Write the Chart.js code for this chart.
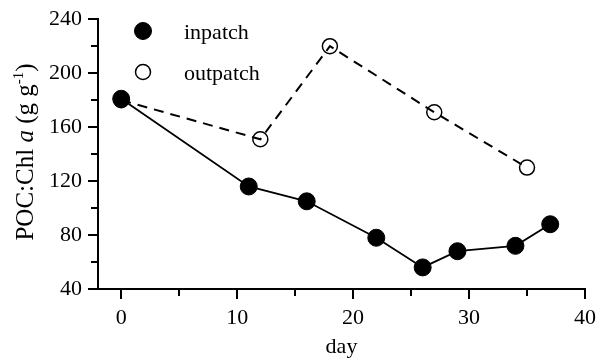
<!DOCTYPE html>
<html>
<head>
<meta charset="utf-8">
<script src="https://cdn.jsdelivr.net/npm/chart.js@4.4.1/dist/chart.umd.min.js"></script>
<style>
  html, body { margin: 0; padding: 0; background: #fff; }
</style>
</head>
<body>
<canvas id="pocChart" width="602" height="360"></canvas>
<script>
// data
const inDays = [0, 11, 16, 22, 26, 29, 34, 37];
const inPoc = [181, 116, 105, 78, 56, 68, 72, 88];
const outDays = [0, 12, 18, 27, 35];
const outPoc = [180, 151, 220, 171, 130];

const xTicks = [0, 10, 20, 30, 40];
const xMinor = [5, 15, 25, 35];
const yTicks = [40, 80, 120, 160, 200, 240];
const yMinor = [60, 100, 140, 180, 220];

const serif = "'Liberation Serif', 'DejaVu Serif', serif";

// minor ticks + y axis title + legend drawn on top
const extras = {
    id: 'extras',
    afterDraw(chart) {
        const ctx = chart.ctx;
        const xs = chart.scales.x;
        const ys = chart.scales.y;
        ctx.save();
        ctx.strokeStyle = '#000';
        ctx.lineWidth = 2;
        ctx.beginPath();
        xMinor.forEach((v) => {
            const px = Math.round(xs.getPixelForValue(v));
            ctx.moveTo(px, ys.bottom);
            ctx.lineTo(px, ys.bottom + 7);
        });
        yMinor.forEach((v) => {
            const py = Math.round(ys.getPixelForValue(v));
            ctx.moveTo(xs.left, py);
            ctx.lineTo(xs.left - 7, py);
        });
        ctx.stroke();

        // y title: POC:Chl a (g g-1)
        const parts = [
            { t: 'POC:Chl ', f: '25px ' + serif, dy: 0 },
            { t: 'a', f: 'italic 25px ' + serif, dy: 0 },
            { t: ' (g g', f: '25px ' + serif, dy: 0 },
            { t: '-1', f: '15px ' + serif, dy: -10 },
            { t: ')', f: '25px ' + serif, dy: 0 }
        ];
        let total = 0;
        parts.forEach((p) => { ctx.font = p.f; total += ctx.measureText(p.t).width; });
        ctx.translate(33, 152);
        ctx.rotate(-Math.PI / 2);
        ctx.fillStyle = '#000';
        ctx.textBaseline = 'alphabetic';
        let x = -total / 2;
        parts.forEach((p) => {
            ctx.font = p.f;
            ctx.fillText(p.t, x, p.dy);
            x += ctx.measureText(p.t).width;
        });
        ctx.restore();

        // legend
        ctx.save();
        const rows = [31, 72];
        chart.data.datasets.forEach((ds, i) => {
            const cy = rows[i];
            ctx.beginPath();
            ctx.arc(143, cy, ds.pointRadius, 0, Math.PI * 2);
            if (ds.pointBackgroundColor !== 'rgba(0,0,0,0)') {
                ctx.fillStyle = ds.pointBackgroundColor;
                ctx.fill();
            }
            ctx.lineWidth = ds.pointBorderWidth;
            ctx.strokeStyle = '#000';
            ctx.stroke();
            ctx.fillStyle = '#000';
            ctx.font = '22px ' + serif;
            ctx.textBaseline = 'alphabetic';
            ctx.fillText(ds.label, 184, cy + 8);
        });
        ctx.restore();
    }
};

const ctx = document.getElementById('pocChart').getContext('2d');

const chart = new Chart(ctx, {
    type: 'line',
    data: {
        datasets: [{
            label: 'inpatch',
            data: inDays.map((d, i) => ({ x: d, y: inPoc[i] })),
            borderColor: '#000',
            borderWidth: 1.8,
            pointRadius: 8.5,
            pointBackgroundColor: '#000',
            pointBorderColor: '#000',
            pointBorderWidth: 1,
            tension: 0
        }, {
            label: 'outpatch',
            data: outDays.map((d, i) => ({ x: d, y: outPoc[i] })),
            borderColor: '#000',
            borderWidth: 2,
            borderDash: [10, 7],
            pointRadius: 7.5,
            pointBackgroundColor: 'rgba(0,0,0,0)',
            pointBorderColor: '#000',
            pointBorderWidth: 1.5,
            tension: 0
        }]
    },
    options: {
        responsive: false,
        animation: false,
        devicePixelRatio: 1,
        layout: { padding: { top: 16, right: 12, left: 0, bottom: 0 } },
        plugins: {
            legend: { display: false },
            tooltip: { enabled: false }
        },
        scales: {
            x: {
                type: 'linear',
                min: -2,
                max: 40,
                afterBuildTicks: (scale) => { scale.ticks = xTicks.map((v) => ({ value: v })); },
                afterFit: (scale) => { scale.height = 71; },
                border: { display: true, color: '#000', width: 2 },
                grid: { display: true, drawOnChartArea: false, drawTicks: true, tickLength: 10, color: '#000', lineWidth: 2 },
                ticks: { color: '#000', padding: 6, maxRotation: 0, font: { family: serif, size: 22 } },
                title: { display: true, text: 'day', color: '#000', padding: { top: 0, bottom: 0 }, font: { family: serif, size: 22 } }
            },
            y: {
                type: 'linear',
                min: 40,
                max: 240,
                afterBuildTicks: (scale) => { scale.ticks = yTicks.map((v) => ({ value: v })); },
                afterFit: (scale) => { scale.width = 98; },
                border: { display: true, color: '#000', width: 2 },
                grid: { display: true, drawOnChartArea: false, drawTicks: true, tickLength: 10, color: '#000', lineWidth: 2 },
                ticks: { color: '#000', padding: 6, font: { family: serif, size: 22 } }
            }
        }
    },
    plugins: [extras]
});
</script>
</body>
</html>
